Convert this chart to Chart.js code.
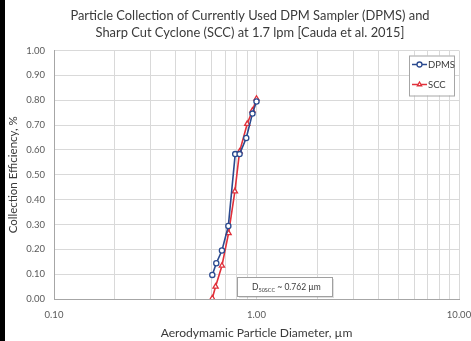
<!DOCTYPE html>
<html>
<head>
<meta charset="utf-8">
<script src="https://cdn.jsdelivr.net/npm/chart.js@4"></script>
<style>
  html, body { margin: 0; padding: 0; background: #fff; }
  #wrap { position: relative; width: 471px; height: 341px; }
  #edge { position: absolute; left: 0; top: 0; width: 5px; height: 341px; background: #000; }
</style>
</head>
<body>
<div id="wrap">
  <canvas id="chart" width="471" height="341"></canvas>
  <div id="edge"></div>
</div>
<script>
// Data
const dpmsDiameter = [0.605, 0.633, 0.675, 0.726, 0.785, 0.825, 0.89, 0.955, 1.0];
const dpmsEfficiency = [0.097, 0.144, 0.195, 0.294, 0.583, 0.583, 0.648, 0.746, 0.795];
const sccDiameter = [0.605, 0.628, 0.675, 0.728, 0.782, 0.825, 0.90, 0.955, 1.0];
const sccEfficiency = [0.003, 0.05, 0.134, 0.265, 0.433, 0.593, 0.705, 0.758, 0.806];
const xTicks = [0.1, 0.2, 0.3, 0.4, 0.5, 0.6, 0.7, 0.8, 0.9, 1, 2, 3, 4, 5, 6, 7, 8, 9, 10];
const xLabelled = [0.1, 1, 10];
const titleLines = ['Particle Collection of Currently Used DPM Sampler (DPMS) and',
                    'Sharp Cut Cyclone (SCC) at 1.7 lpm [Cauda et al. 2015]'];

const FONT = 'Lato, "Open Sans", sans-serif';
const TEXT = '#3a3a3a';
const BLUE = '#2b4a8f';
const RED = '#e0303a';

const toPoints = (xs, ys) => xs.map((x, i) => ({ x: x, y: ys[i] }));

// two-line title, centred a little left of the plot centre as in the original
const titleBlock = {
    id: 'titleBlock',
    afterDraw(chart) {
        const { ctx } = chart;
        ctx.save();
        ctx.fillStyle = TEXT;
        ctx.font = '12.9px ' + FONT;
        ctx.textAlign = 'center';
        ctx.textBaseline = 'middle';
        titleLines.forEach((line, i) => ctx.fillText(line, 250, 16 + i * 17));
        ctx.restore();
    }
};

// legend drawn inside the plot, top right, like the original
const legendBox = {
    id: 'legendBox',
    afterDraw(chart) {
        const { ctx, chartArea } = chart;
        const left = chartArea.right - 50, top = chartArea.top + 5;
        ctx.save();
        ctx.fillStyle = '#fff';
        ctx.fillRect(left, top, 45, 40);
        ctx.strokeStyle = '#a6a6a6';
        ctx.lineWidth = 1;
        ctx.strokeRect(left + 0.5, top + 0.5, 45, 40);
        chart.data.datasets.forEach((ds, i) => {
            const y = top + 9 + i * 20;
            ctx.strokeStyle = ds.borderColor;
            ctx.lineWidth = 1.5;
            ctx.beginPath();
            ctx.moveTo(left + 3, y);
            ctx.lineTo(left + 18, y);
            ctx.stroke();
            ctx.fillStyle = '#fff';
            ctx.strokeStyle = ds.borderColor;
            ctx.lineWidth = 1.3;
            Chart.helpers.drawPoint(ctx, {
                pointStyle: ds.pointStyle, radius: 2.5, borderWidth: 1.3
            }, left + 10.5, y);
            ctx.fillStyle = TEXT;
            ctx.font = '9.5px ' + FONT;
            ctx.textBaseline = 'middle';
            ctx.fillText(ds.label, left + 19, y + 0.5);
        });
        ctx.restore();
    }
};

// D50 note box near the bottom of the plot
const noteBox = {
    id: 'noteBox',
    afterDraw(chart) {
        const { ctx, chartArea } = chart;
        const x0 = chartArea.left + 183, y0 = chartArea.bottom - 22, w = 95, h = 19;
        ctx.save();
        ctx.fillStyle = 'rgba(0,0,0,0.12)';
        ctx.fillRect(x0 + 2, y0 + 2, w, h);
        ctx.fillStyle = '#fff';
        ctx.fillRect(x0, y0, w, h);
        ctx.strokeStyle = '#a0a0a0';
        ctx.lineWidth = 1;
        ctx.strokeRect(x0 + 0.5, y0 + 0.5, w, h);
        ctx.fillStyle = TEXT;
        ctx.textBaseline = 'alphabetic';
        let x = x0 + 15;
        const base = y0 + 13;
        ctx.font = '8.5px ' + FONT;
        ctx.fillText('D', x, base);
        x += ctx.measureText('D').width;
        ctx.font = '5.5px ' + FONT;
        ctx.fillText('50SCC', x, base + 2);
        x += ctx.measureText('50SCC').width;
        ctx.font = '8.5px ' + FONT;
        ctx.fillText(' ~ 0.762 \u00b5m', x, base);
        ctx.restore();
    }
};

new Chart(document.getElementById('chart'), {
    type: 'scatter',
    data: {
        datasets: [{
            label: 'DPMS',
            data: toPoints(dpmsDiameter, dpmsEfficiency),
            showLine: true,
            borderColor: BLUE,
            backgroundColor: '#fff',
            borderWidth: 1.6,
            pointStyle: 'circle',
            pointRadius: 2.6,
            pointBorderWidth: 1.3,
            pointBorderColor: BLUE,
            pointBackgroundColor: '#fff'
        }, {
            label: 'SCC',
            data: toPoints(sccDiameter, sccEfficiency),
            showLine: true,
            borderColor: RED,
            backgroundColor: '#fff',
            borderWidth: 1.6,
            pointStyle: 'triangle',
            pointRadius: 3,
            pointBorderWidth: 1.3,
            pointBorderColor: RED,
            pointBackgroundColor: '#fff'
        }]
    },
    options: {
        responsive: false,
        animation: false,
        layout: { padding: { left: 0, right: 12, top: 50.5, bottom: 0 } },
        plugins: {
            legend: { display: false },
            tooltip: { enabled: false },
            title: { display: false }
        },
        scales: {
            x: {
                type: 'logarithmic',
                min: 0.1,
                max: 10,
                afterBuildTicks: (axis) => { axis.ticks = xTicks.map(v => ({ value: v })); },
                afterFit: (axis) => {
                    axis.height = 42;
                    axis.paddingLeft = 0;
                    axis.paddingRight = 0;
                },
                ticks: {
                    autoSkip: false,
                    maxRotation: 0,
                    padding: 10,
                    color: '#595959',
                    font: { family: FONT, size: 9.5 },
                    callback: (v) => xLabelled.includes(v) ? v.toFixed(2) : ''
                },
                grid: { color: '#d9d9d9', drawTicks: false },
                border: { color: '#a6a6a6' },
                title: {
                    display: true,
                    text: 'Aerodymamic Particle Diameter, \u00b5m',
                    color: TEXT,
                    font: { family: FONT, size: 12.1 },
                    padding: { top: 0, bottom: 1 }
                }
            },
            y: {
                min: 0,
                max: 1,
                afterFit: (axis) => {
                    axis.width = 54;
                    axis.paddingTop = 0;
                    axis.paddingBottom = 0;
                },
                ticks: {
                    stepSize: 0.1,
                    padding: 9,
                    color: '#595959',
                    font: { family: FONT, size: 9.5 },
                    callback: (v) => v.toFixed(2)
                },
                grid: { color: '#d9d9d9', drawTicks: false },
                border: { color: '#a6a6a6' },
                title: {
                    display: true,
                    text: 'Collection Efficiency, %',
                    color: TEXT,
                    font: { family: FONT, size: 11.5 },
                    padding: { top: 6, bottom: 0 }
                }
            }
        }
    },
    plugins: [titleBlock, legendBox, noteBox]
});
</script>
</body>
</html>
